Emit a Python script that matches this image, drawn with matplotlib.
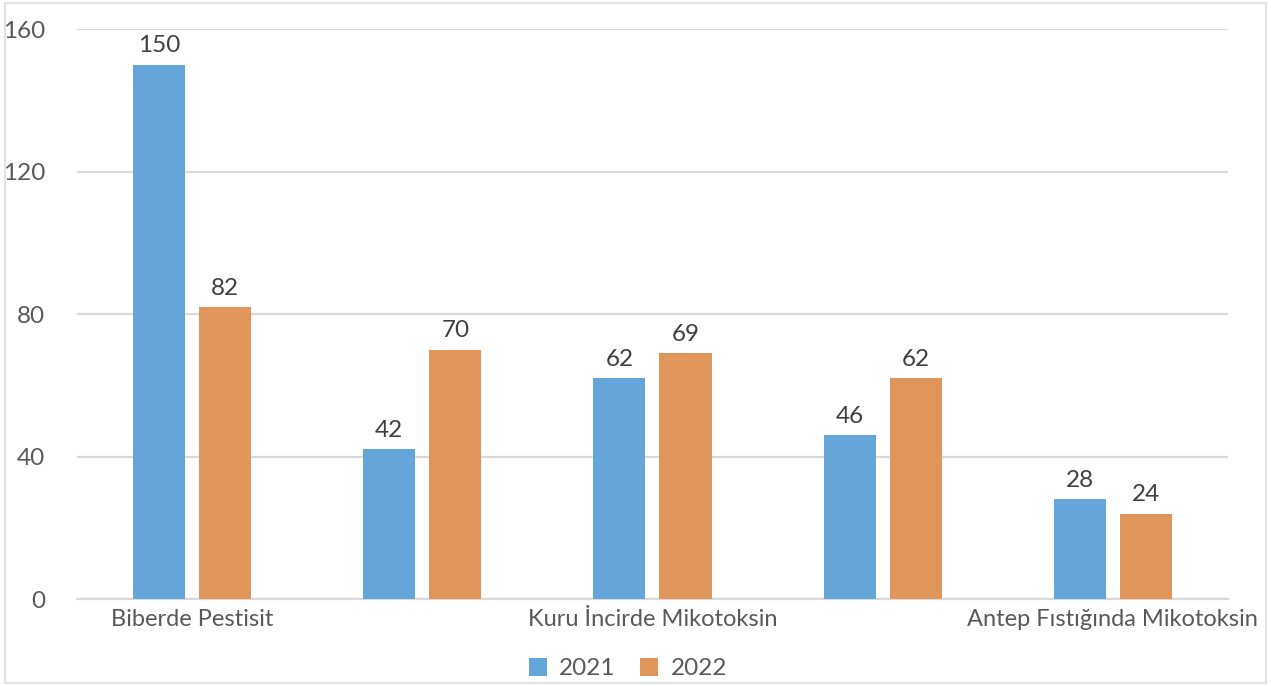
import numpy as np
import matplotlib.pyplot as plt
from matplotlib.patches import Rectangle

# Product groups (only every other label is shown on the axis)
categories = ["Biberde Pestisit", "", "Kuru İncirde Mikotoksin", "", "Antep Fıstığında Mikotoksin"]
values_2021 = [150, 42, 62, 46, 28]
values_2022 = [82, 70, 69, 62, 24]
years = ["2021", "2022"]
y_ticks = [0, 40, 80, 120, 160]

plt.rcParams['font.family'] = ['Lato', 'DejaVu Sans']

blue = '#64A5DA'
orange = '#E0955A'
grid_color = '#D9D9D9'

fig = plt.figure(figsize=(12.71, 6.86), dpi=100)
ax = fig.add_axes([0.0606, 0.1268, 0.9055, 0.8309])

x = np.arange(len(categories))
width = 0.226
offset = 0.1435

bars1 = ax.bar(x - offset, values_2021, width, color=blue, label=years[0], zorder=3)
bars2 = ax.bar(x + offset, values_2022, width, color=orange, label=years[1], zorder=3)

for bars in (bars1, bars2):
    ax.bar_label(bars, padding=6, fontsize=17.5, color='#404040')

ax.set_xlim(-0.5, len(categories) - 0.5)
ax.set_ylim(0, 160)
ax.set_yticks(y_ticks)
ax.set_xticks(x)
ax.set_xticklabels(categories)
ax.tick_params(axis='x', length=0, pad=7, labelsize=17, labelcolor='#595959')
ax.tick_params(axis='y', length=0, pad=23, labelsize=17.5, labelcolor='#595959')

ax.grid(axis='y', color=grid_color, linewidth=1.6, zorder=0)
for side in ('top', 'right', 'left'):
    ax.spines[side].set_visible(False)
ax.spines['bottom'].set_color(grid_color)
ax.spines['bottom'].set_linewidth(1.6)

fig.legend(loc='lower center', bbox_to_anchor=(0.494, -0.022), ncol=2, frameon=False,
           fontsize=17.5, labelcolor='#595959', handlelength=0.75, handleheight=0.75,
           columnspacing=1.0, handletextpad=0.5)

# light frame around the whole chart
fig.patches.append(Rectangle((0.004, 0.005), 0.992, 0.99, transform=fig.transFigure,
                             fill=False, edgecolor='#E3E3E3', linewidth=1.5))

fig.savefig('out.png', dpi=100)
